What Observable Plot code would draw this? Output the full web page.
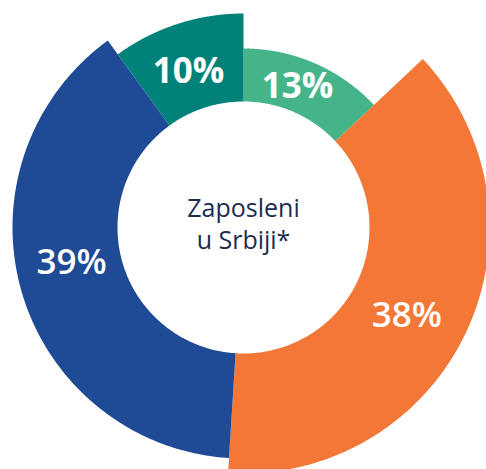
<!DOCTYPE html>
<html>
<head>
<meta charset="utf-8">
<script src="https://cdn.jsdelivr.net/npm/d3@7"></script>
<script src="https://cdn.jsdelivr.net/npm/@observablehq/plot@0.6"></script>
<style>
  html, body { margin: 0; padding: 0; background: #fff; overflow: hidden; }
  #chart svg { display: block; }
</style>
</head>
<body>
<div id="chart"></div>
<script>
// ---- Data ----
const segments = ["s13", "s38", "s39", "s10"];
const values = [13, 38, 39, 10];
const valueLabels = ["13%", "38%", "39%", "10%"];
const centerTitle = ["Zaposleni", "u Srbiji*"];

// ---- Style ----
const colors = ["#45b489", "#f37837", "#1f4a96", "#00827a"];
const outerRadii = [179, 246, 231, 214];
const innerRadius = 126;
const labelWeights = ["bold", 600, 600, "bold"];
// label placement tweaks: [angle shift in degrees, radius shift in px]
const labelShift = [[-2.4, -2], [3.3, 0], [4.7, -3], [-1.5, -5]];

const W = 486, H = 469, CX = 243, CY = 227;

// Build slice polygons from the values
const total = d3.sum(values);
const polys = [];
const labelsData = [];
let acc = 0;
values.forEach((v, i) => {
  const a0 = acc / total * 2 * Math.PI;
  acc += v;
  const a1 = acc / total * 2 * Math.PI;
  const ro = outerRadii[i];
  const n = 160;
  for (let k = 0; k <= n; k++) {
    const a = a0 + (a1 - a0) * k / n;
    polys.push({segment: segments[i], x: ro * Math.sin(a), y: ro * Math.cos(a)});
  }
  for (let k = n; k >= 0; k--) {
    const a = a0 + (a1 - a0) * k / n;
    polys.push({segment: segments[i], x: innerRadius * Math.sin(a), y: innerRadius * Math.cos(a)});
  }
  const am = (a0 + a1) / 2 + labelShift[i][0] * Math.PI / 180;
  const rm = (ro + innerRadius) / 2 + labelShift[i][1];
  labelsData.push({label: valueLabels[i], x: rm * Math.sin(am), y: rm * Math.cos(am), w: labelWeights[i]});
});

const chart = Plot.plot({
  width: W,
  height: H,
  margin: 0,
  style: {background: "#fff", fontFamily: "'Open Sans', sans-serif"},
  x: {domain: [-CX, W - CX], axis: null},
  y: {domain: [-(H - CY), CY], axis: null},
  color: {domain: segments, range: colors},
  marks: [
    Plot.line(polys, {x: "x", y: "y", z: "segment", fill: "segment", stroke: "none", curve: "linear-closed", clip: true}),
    ...labelsData.map(d => Plot.text([d], {
      x: "x", y: "y", text: "label", fill: "#fff",
      fontSize: 35, fontWeight: d.w, fontFamily: "'Open Sans', sans-serif"
    })),
    Plot.text([centerTitle.join("\n")], {
      x: () => 0, y: () => 0, dy: -5, text: d => d, fill: "#1e2b4f",
      fontSize: 25, lineHeight: 1.3, fontFamily: "'Open Sans', sans-serif"
    })
  ]
});
document.getElementById("chart").appendChild(chart);
</script>
</body>
</html>
